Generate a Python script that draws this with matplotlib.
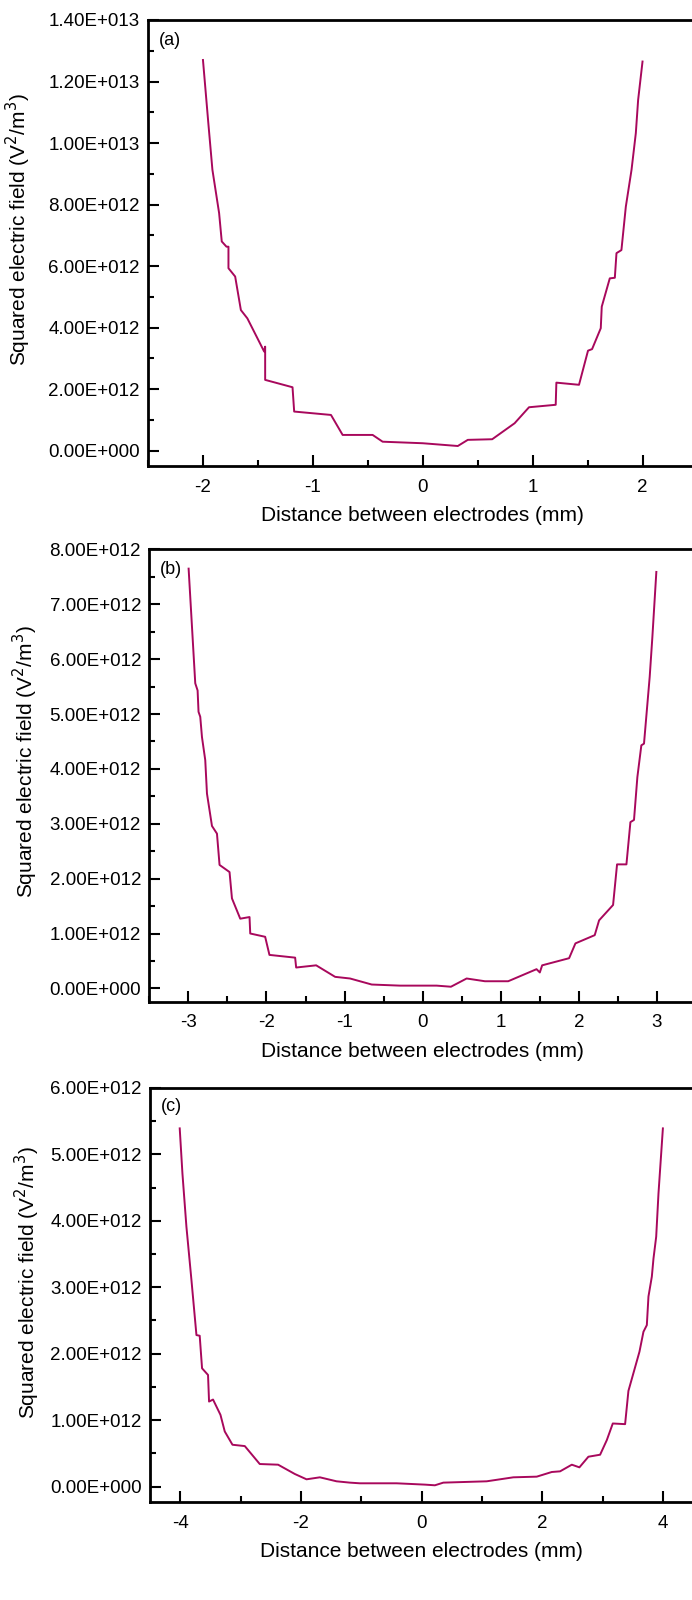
import numpy as np
import matplotlib
matplotlib.use('Agg')
import matplotlib.pyplot as plt
from matplotlib.ticker import MultipleLocator, FuncFormatter

plt.rcParams['font.family'] = ['Liberation Sans', 'DejaVu Sans']

# panel (a): 4 mm gap
xa = [-2.0, -1.951, -1.914, -1.853, -1.829, -1.786, -1.768, -1.768, -1.707, -1.655, -1.596,
      -1.443, -1.434, -1.434, -1.185, -1.170, -0.835, -0.729, -0.456, -0.365, 0.0, 0.319,
      0.41, 0.632, 0.836, 0.967, 1.21, 1.216, 1.422, 1.504, 1.541, 1.62, 1.629, 1.702,
      1.748, 1.763, 1.808, 1.848, 1.9, 1.939, 1.96, 2.0]
ya = [12.70, 10.64, 9.13, 7.72, 6.80, 6.63, 6.63, 5.93, 5.66, 4.57, 4.30,
      3.22, 3.38, 2.30, 2.06, 1.27, 1.16, 0.51, 0.51, 0.29, 0.24, 0.15,
      0.35, 0.37, 0.89, 1.41, 1.49, 2.21, 2.14, 3.25, 3.30, 3.98, 4.68, 5.60,
      5.62, 6.42, 6.52, 7.93, 9.13, 10.32, 11.40, 12.65]

# panel (b): 6 mm gap
xb = [-2.997, -2.912, -2.882, -2.87, -2.848, -2.826, -2.784, -2.762, -2.698, -2.634, -2.601,
      -2.473, -2.442, -2.336, -2.217, -2.208, -2.017, -1.962, -1.633, -1.62, -1.364, -1.121,
      -0.93, -0.652, -0.29, 0.179, 0.362, 0.563, 0.797, 1.095, 1.458, 1.5, 1.53, 1.875,
      1.956, 2.203, 2.259, 2.438, 2.489, 2.609, 2.66, 2.706, 2.749, 2.8, 2.834, 2.907,
      2.941, 2.992]
yb = [7.65, 5.56, 5.43, 5.04, 4.95, 4.58, 4.16, 3.55, 2.96, 2.82, 2.25,
      2.12, 1.64, 1.27, 1.30, 1.00, 0.94, 0.61, 0.56, 0.38, 0.42, 0.21,
      0.18, 0.07, 0.05, 0.05, 0.03, 0.18, 0.13, 0.13, 0.35, 0.29, 0.42, 0.55,
      0.82, 0.97, 1.24, 1.52, 2.26, 2.26, 3.03, 3.07, 3.85, 4.43, 4.46, 5.68,
      6.40, 7.59]

# panel (c): 8 mm gap
xc = [-4.008, -3.963, -3.897, -3.814, -3.731, -3.677, -3.638, -3.539, -3.522, -3.456, -3.333,
      -3.262, -3.134, -2.93, -2.682, -2.378, -2.101, -1.907, -1.686, -1.41, -1.189, -1.023,
      -0.415, 0.055, 0.22, 0.359, 1.078, 1.519, 1.907, 2.156, 2.294, 2.488, 2.614, 2.763,
      2.957, 3.068, 3.167, 3.371, 3.426, 3.609, 3.675, 3.731, 3.758, 3.814, 3.841, 3.886,
      3.924, 3.997]
yc = [5.39, 4.71, 3.91, 3.11, 2.28, 2.27, 1.78, 1.68, 1.28, 1.31, 1.08,
      0.83, 0.63, 0.61, 0.34, 0.33, 0.19, 0.11, 0.14, 0.08, 0.06, 0.05,
      0.05, 0.03, 0.02, 0.06, 0.08, 0.14, 0.15, 0.22, 0.23, 0.33, 0.29, 0.45,
      0.48, 0.70, 0.95, 0.94, 1.44, 2.03, 2.33, 2.43, 2.86, 3.16, 3.43, 3.76,
      4.41, 5.39]

panels = [
    # x, y (1e12), tag, xlim, ylim, xmajor, ymajor, axes rect, ylabel right edge (px)
    (xa, ya, '(a)', (-2.5, 2.5), (-0.5, 14.0), 1, 2, [0.2139, 0.70875, 0.794, 0.27875], 33),
    (xb, yb, '(b)', (-3.5, 3.5), (-0.244, 8.0), 1, 1, [0.2158, 0.3739, 0.790, 0.2827], 40),
    (xc, yc, '(c)', (-4.5, 4.5), (-0.235, 6.0), 2, 1, [0.2168, 0.0611, 0.785, 0.2590], 42),
]

line_color = '#A8085C'

def sci_fmt(v, pos):
    v = v * 1e12
    if v == 0:
        return '0.00E+000'
    e = int(np.floor(np.log10(abs(v)) + 1e-9))
    m = v / 10 ** e
    return '%.2fE+%03d' % (m, e)

fig = plt.figure(figsize=(6.92, 16), dpi=100)

for x, y, tag, xl, yl, xmaj, ymaj, rect, lab_x in panels:
    ax = fig.add_axes(rect)
    ax.plot(x, y, color=line_color, lw=1.4)
    ax.set_xlim(*xl)
    ax.set_ylim(*yl)
    ax.xaxis.set_major_locator(MultipleLocator(xmaj))
    ax.xaxis.set_minor_locator(MultipleLocator(xmaj / 2))
    ax.yaxis.set_major_locator(MultipleLocator(ymaj))
    ax.yaxis.set_minor_locator(MultipleLocator(ymaj / 2))
    ax.yaxis.set_major_formatter(FuncFormatter(sci_fmt))
    ax.xaxis.set_major_formatter(FuncFormatter(lambda v, p: '%d' % round(v)))
    ax.tick_params(which='major', direction='in', length=8, width=1.5, labelsize=13.5, pad=6)
    ax.tick_params(which='minor', direction='in', length=4, width=1.5)
    ax.tick_params(axis='x', which='major', pad=9)
    for s in ax.spines.values():
        s.set_linewidth(2)
    ax.text(0.02, 0.955, tag, transform=ax.transAxes, fontsize=13, va='center', ha='left')
    ax.set_xlabel('Distance between electrodes (mm)', fontsize=15)
    ax.set_ylabel('Squared electric field (V$^2$/m$^3$)', fontsize=15)
    w_px = rect[2] * 692
    h_px = rect[3] * 1600
    ax.yaxis.set_label_coords(-(rect[0] * 692 - lab_x) / w_px, 0.53)
    ax.xaxis.set_label_coords(0.5, -40 / h_px)

fig.savefig('out.png', dpi=100)
